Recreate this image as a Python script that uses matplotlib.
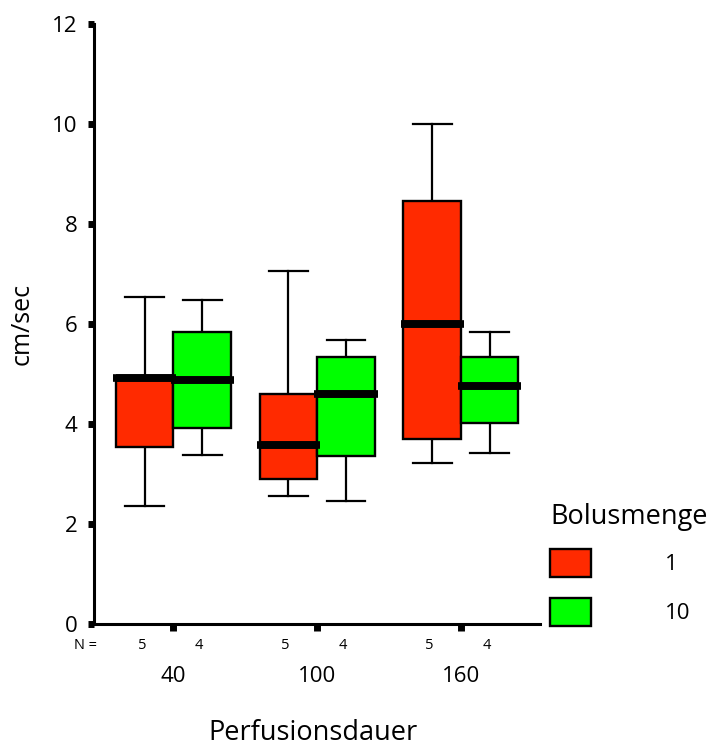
import matplotlib
matplotlib.use('Agg')
import matplotlib.pyplot as plt
import matplotlib.transforms as mtransforms
from matplotlib.patches import Patch

plt.rcParams['font.family'] = ['Open Sans', 'DejaVu Sans']

# ---- data ----
groups = ['40', '100', '160']
series_labels = ['1', '10']
series_colors = ['#FF2A00', '#00FF00']
n_counts = [[5, 5, 5], [4, 4, 4]]

# Bolusmenge = 1
s1_whislo = [2.35, 2.56, 3.21]
s1_q1 = [3.53, 2.89, 3.69]
s1_med = [4.92, 3.58, 5.99]
s1_q3 = [4.90, 4.60, 8.45]
s1_whishi = [6.53, 7.05, 10.0]

# Bolusmenge = 10
s10_whislo = [3.37, 2.46, 3.42]
s10_q1 = [3.91, 3.36, 4.01]
s10_med = [4.87, 4.60, 4.76]
s10_q3 = [5.83, 5.34, 5.34]
s10_whishi = [6.47, 5.67, 5.83]

series_stats = [
    (s1_whislo, s1_q1, s1_med, s1_q3, s1_whishi),
    (s10_whislo, s10_q1, s10_med, s10_q3, s10_whishi),
]

yticks = [0, 2, 4, 6, 8, 10, 12]

# ---- figure ----
fig = plt.figure(figsize=(7.07, 7.47), dpi=100)
ax = fig.add_axes([0.1334, 0.1647, 0.6304, 0.8032])

centers = [1, 2, 3]
offsets = [-0.2, 0.2]
box_w = 0.4

for si, (lo, q1, med, q3, hi) in enumerate(series_stats):
    stats = []
    for gi in range(len(groups)):
        stats.append(dict(whislo=lo[gi], q1=q1[gi], med=med[gi], q3=q3[gi],
                          whishi=hi[gi], fliers=[]))
    pos = [c + offsets[si] for c in centers]
    ax.bxp(stats, positions=pos, widths=box_w, capwidths=0.27,
           patch_artist=True, showfliers=False, manage_ticks=False,
           boxprops=dict(facecolor=series_colors[si], edgecolor='black',
                         linewidth=1.7, zorder=3),
           whiskerprops=dict(color='black', linewidth=1.6, zorder=2),
           capprops=dict(color='black', linewidth=1.6, zorder=2),
           medianprops=dict(color='black', linewidth=5.5,
                            solid_capstyle='butt', zorder=6))
    # extend medians a bit beyond the box like the reference
    for gi in range(len(groups)):
        ax.plot([pos[gi] - box_w / 2 - 0.02, pos[gi] + box_w / 2 + 0.02],
                [med[gi], med[gi]], color='black', linewidth=5.5,
                solid_capstyle='butt', zorder=7)

ax.set_xlim(0.45, 3.55)
ax.set_ylim(0, 12)

for side in ['top', 'right']:
    ax.spines[side].set_visible(False)
ax.spines['left'].set_linewidth(2.2)
ax.spines['bottom'].set_linewidth(2.2)
ax.spines['left'].set_bounds(0, 12)

ax.set_yticks(yticks)
ax.set_yticklabels([str(v) for v in yticks], fontsize=16)
ax.tick_params(axis='y', direction='out', length=4, width=5, pad=8)

ax.set_xticks(centers)
ax.set_xticklabels(groups, fontsize=16)
ax.tick_params(axis='x', direction='out', length=5, width=5, pad=25)

# N counts
trans = mtransforms.blended_transform_factory(ax.transData, ax.transAxes)
ax.text(0.39, -0.036, 'N =', transform=trans, ha='center', va='center',
        fontsize=10.5, clip_on=False)
for si in range(2):
    for gi in range(len(groups)):
        ax.text(centers[gi] + offsets[si] - 0.02, -0.036, str(n_counts[si][gi]),
                transform=trans, ha='center', va='center', fontsize=10.5,
                clip_on=False)

ax.set_ylabel('cm/sec', fontsize=18, va='center')
ax.yaxis.set_label_coords(-0.162, 0.5)
ax.set_xlabel('Perfusionsdauer', fontsize=19.5, va='center')
ax.xaxis.set_label_coords(0.49, -0.182)

handles = [Patch(facecolor=c, edgecolor='black', linewidth=1.7)
           for c in series_colors]
leg = fig.legend(handles, series_labels, title='Bolusmenge',
                 loc='upper left', bbox_to_anchor=(550 / 707, 1 - 503 / 747),
                 frameon=False, fontsize=16, title_fontsize=19.5,
                 handlelength=1.85, handleheight=1.55, handletextpad=3.3,
                 labelspacing=0.95, borderpad=0, borderaxespad=0)
leg._legend_box.align = 'left'
leg._legend_box.sep = 13

fig.savefig('out.png', dpi=100)
